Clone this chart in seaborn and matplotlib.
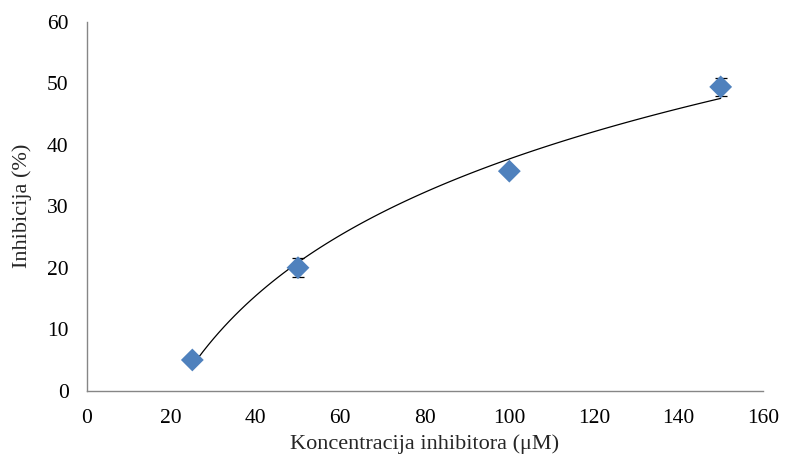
import numpy as np
import pandas as pd
import matplotlib
matplotlib.use("Agg")
import matplotlib.pyplot as plt
import seaborn as sns

# data
concentration = [25, 50, 100, 150]
inhibition = [5.0, 20.0, 35.7, 49.4]
inhibition_err = [0.3, 1.5, 0.5, 1.4]

df = pd.DataFrame({"c": concentration, "inh": inhibition, "err": inhibition_err})

sns.set_style("white")
plt.rcParams["font.family"] = ["Liberation Serif", "DejaVu Serif"]

fig = plt.figure(figsize=(7.85, 4.62), dpi=100)
ax = fig.add_axes([0.1104, 0.1543, 0.8615, 0.7987])

# log trendline (y = a*ln(x) + b) fitted by seaborn
sns.regplot(data=df, x="c", y="inh", logx=True, scatter=False, ci=None,
            line_kws={"color": "black", "lw": 0.9}, ax=ax)

ax.errorbar(df["c"], df["inh"], yerr=df["err"], fmt="none",
            ecolor="black", elinewidth=0.9, capsize=4, capthick=0.9, zorder=3)
sns.scatterplot(data=df, x="c", y="inh", marker="D", s=135,
                color="#4F81BD", edgecolor="none", zorder=4, ax=ax)

ax.set_xlim(0, 160)
ax.set_ylim(0, 60)
ax.set_xticks(np.arange(0, 161, 20))
ax.set_yticks(np.arange(0, 61, 10))

ax.set_xlabel("Koncentracija inhibitora (μM)", fontsize=16)
ax.set_ylabel("Inhibicija (%)", fontsize=16)
ax.xaxis.set_label_coords(0.5, -0.118)
ax.yaxis.set_label_coords(-0.081, 0.5)

for side in ["top", "right"]:
    ax.spines[side].set_visible(False)
for side in ["left", "bottom"]:
    ax.spines[side].set_color("#868686")
    ax.spines[side].set_linewidth(1.0)

ax.tick_params(axis="both", direction="out", length=5, width=1.0,
               color="#868686", labelsize=15.5, labelcolor="black", pad=8)

fig.savefig("out.png", dpi=100)
